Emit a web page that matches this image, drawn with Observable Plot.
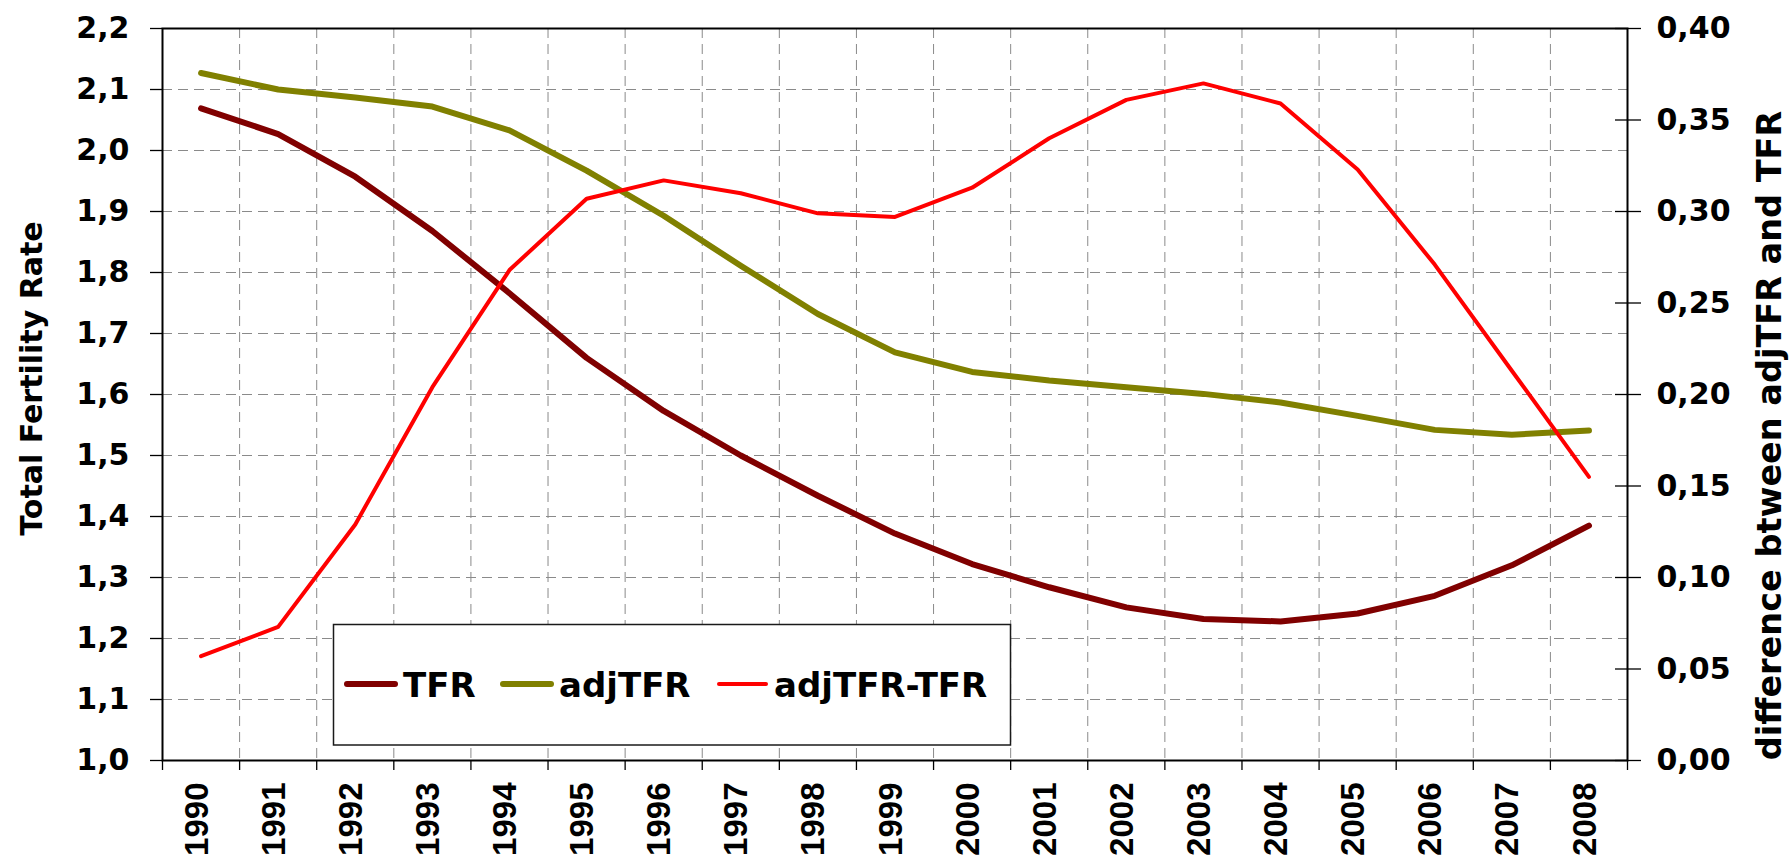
<!DOCTYPE html>
<html>
<head>
<meta charset="utf-8">
<script src="https://cdn.jsdelivr.net/npm/d3@7"></script>
<script src="https://cdn.jsdelivr.net/npm/@observablehq/plot@0.6"></script>
<style>
  html, body { margin: 0; padding: 0; background: #ffffff; }
  svg { display: block; }
</style>
</head>
<body>
<script>
// ---- data ----
const years = [1990, 1991, 1992, 1993, 1994, 1995, 1996, 1997, 1998, 1999,
               2000, 2001, 2002, 2003, 2004, 2005, 2006, 2007, 2008];
const tfr = [2.069, 2.027, 1.957, 1.868, 1.766, 1.660, 1.573, 1.500, 1.434, 1.372,
             1.322, 1.284, 1.251, 1.232, 1.228, 1.241, 1.270, 1.320, 1.385];
const adjTfr = [2.127, 2.100, 2.087, 2.072, 2.033, 1.967, 1.893, 1.811, 1.732, 1.669,
                1.637, 1.623, 1.612, 1.601, 1.587, 1.565, 1.542, 1.534, 1.541];
const diff = [0.057, 0.073, 0.129, 0.204, 0.268, 0.307, 0.317, 0.310, 0.299, 0.297,
              0.313, 0.340, 0.361, 0.370, 0.359, 0.323, 0.271, 0.213, 0.155];

const leftTicks = [1.0, 1.1, 1.2, 1.3, 1.4, 1.5, 1.6, 1.7, 1.8, 1.9, 2.0, 2.1, 2.2];
const leftTickLabels = ["1,0", "1,1", "1,2", "1,3", "1,4", "1,5", "1,6", "1,7", "1,8", "1,9", "2,0", "2,1", "2,2"];
const rightTicks = [0.00, 0.05, 0.10, 0.15, 0.20, 0.25, 0.30, 0.35, 0.40];
const rightTickLabels = ["0,00", "0,05", "0,10", "0,15", "0,20", "0,25", "0,30", "0,35", "0,40"];

const seriesNames = ["TFR", "adjTFR", "adjTFR-TFR"];
const seriesColors = ["#800000", "#808000", "#ff0000"];
const leftTitle = "Total Fertility Rate";
const rightTitle = "difference btween adjTFR and TFR";

// ---- derived tables ----
const yMin = leftTicks[0], yMax = leftTicks[leftTicks.length - 1];
const rMax = rightTicks[rightTicks.length - 1];
const toLeft = d => yMin + d * (yMax - yMin) / rMax;   // secondary axis -> primary scale

const rows = years.map((year, i) => ({year, tfr: tfr[i], adj: adjTfr[i], diff: toLeft(diff[i])}));
const boundaries = years.map(y => y - 0.5).concat([years[years.length - 1] + 0.5]);
const rightTickPos = rightTicks.map(toLeft);

const gridStyle = {stroke: "#8a8a8a", strokeOpacity: 1, strokeWidth: 1, strokeDasharray: "10,6"};
const labelFont = {fontFamily: "DejaVu Sans", fontWeight: "bold"};

const chart = Plot.plot({
  width: 1791,
  height: 860,
  marginLeft: 162,
  marginRight: 164,
  marginTop: 28,
  marginBottom: 100,
  style: {background: "#ffffff", color: "#000000", overflow: "visible"},
  x: {type: "linear", domain: [boundaries[0], boundaries[boundaries.length - 1]]},
  y: {type: "linear", domain: [yMin, yMax]},
  marks: [
    Plot.gridX(boundaries.slice(1, -1), gridStyle),
    Plot.gridY(leftTicks.slice(1, -1), gridStyle),
    Plot.frame({stroke: "#000000", strokeWidth: 2}),

    // left axis
    Plot.axisY(leftTicks, {
      anchor: "left", tickSize: 12, tickPadding: 21, strokeWidth: 1.3,
      tickFormat: d => leftTickLabels[leftTicks.indexOf(d)],
      fontSize: 30, ...labelFont, label: null
    }),
    // right axis: crossing ticks, then labels
    Plot.axisY(rightTickPos, {
      anchor: "right", tickSize: 26, dx: -13, strokeWidth: 1.3,
      tickFormat: () => "", label: null
    }),
    Plot.axisY(rightTickPos, {
      anchor: "right", tickSize: 0, tickPadding: 29,
      tickFormat: d => rightTickLabels[rightTickPos.indexOf(d)],
      fontSize: 30, ...labelFont, label: null
    }),
    // x axis: ticks at category boundaries, labels at centres
    Plot.axisX(boundaries, {
      anchor: "bottom", tickSize: 10, strokeWidth: 1.3,
      tickFormat: () => "", label: null
    }),
    Plot.axisX(years, {
      anchor: "bottom", tickSize: 0, tickPadding: 22, tickRotate: -90, dx: -4,
      tickFormat: d => String(d),
      fontSize: 33, fontFamily: "Liberation Sans", fontWeight: "bold", label: null
    }),

    // axis titles
    Plot.text([leftTitle], {
      frameAnchor: "left", textAnchor: "middle", text: d => d, rotate: -90, dx: -130, dy: -16,
      fontSize: 30, ...labelFont, fill: "#000000"
    }),
    Plot.text([rightTitle], {
      frameAnchor: "right", textAnchor: "middle", text: d => d, rotate: -90, dx: 143, dy: 41,
      fontSize: 33.5, ...labelFont, fill: "#000000"
    }),

    // series
    Plot.line(rows, {x: "year", y: "tfr", stroke: seriesColors[0], strokeWidth: 6,
                     strokeLinecap: "round", strokeLinejoin: "round"}),
    Plot.line(rows, {x: "year", y: "adj", stroke: seriesColors[1], strokeWidth: 6,
                     strokeLinecap: "round", strokeLinejoin: "round"}),
    Plot.line(rows, {x: "year", y: "diff", stroke: seriesColors[2], strokeWidth: 4,
                     strokeLinecap: "round", strokeLinejoin: "round"})
  ]
});

// ---- legend box inside the plot area ----
const svg = d3.select(chart);
const lg = svg.append("g").attr("class", "legend").attr("text-anchor", "start");
lg.append("rect")
  .attr("x", 333.5).attr("y", 624.5).attr("width", 677).attr("height", 120.5)
  .attr("fill", "#ffffff").attr("stroke", "#1a1a1a").attr("stroke-width", 1.5);
const entries = [
  {x1: 347, x2: 395, tx: 403, w: 6},
  {x1: 503, x2: 551, tx: 559, w: 6},
  {x1: 719, x2: 766, tx: 774, w: 4}
];
entries.forEach((e, i) => {
  lg.append("line")
    .attr("x1", e.x1).attr("x2", e.x2).attr("y1", 684).attr("y2", 684)
    .attr("stroke", seriesColors[i]).attr("stroke-width", e.w).attr("stroke-linecap", "round");
  lg.append("text")
    .attr("x", e.tx).attr("y", 697)
    .attr("text-anchor", "start")
    .attr("font-family", "DejaVu Sans").attr("font-weight", "bold").attr("font-size", 34)
    .attr("fill", "#000000")
    .text(seriesNames[i]);
});

document.body.appendChild(chart);
</script>
</body>
</html>
